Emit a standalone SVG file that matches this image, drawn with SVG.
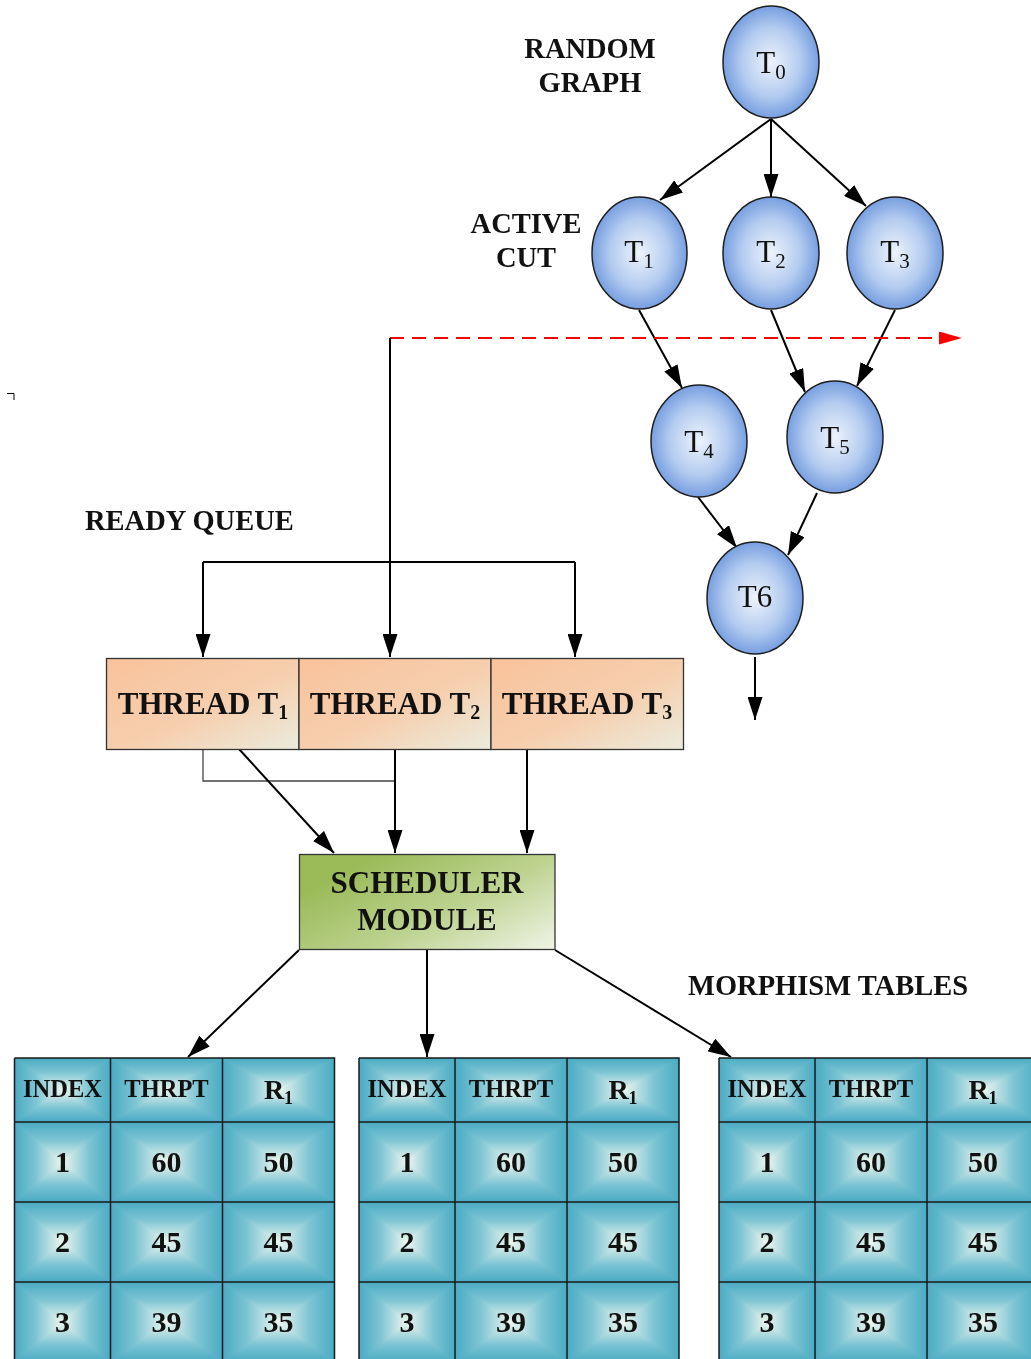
<svg xmlns="http://www.w3.org/2000/svg" width="1031" height="1359" viewBox="0 0 1031 1359">
  <defs>
    <radialGradient id="nodeFill" cx="50%" cy="50%" r="55%">
      <stop offset="0" stop-color="#edf3fb"/>
      <stop offset="0.55" stop-color="#b4ccf0"/>
      <stop offset="1" stop-color="#6893dc"/>
    </radialGradient>
    <linearGradient id="threadFill" x1="0" y1="0" x2="1" y2="1">
      <stop offset="0" stop-color="#f9c29b"/>
      <stop offset="0.55" stop-color="#f6cfae"/>
      <stop offset="1" stop-color="#ebebdd"/>
    </linearGradient>
    <linearGradient id="schedFill" x1="0.1" y1="0.3" x2="1" y2="0.95">
      <stop offset="0" stop-color="#9bbb59"/>
      <stop offset="0.5" stop-color="#bcd28f"/>
      <stop offset="1" stop-color="#eef2e2"/>
    </linearGradient>
    <!-- rectangular cell shading: darken of a horizontal and a vertical ramp -->
    <linearGradient id="cellH" x1="0" y1="0" x2="1" y2="0">
      <stop offset="0" stop-color="#49abc3"/>
      <stop offset="0.22" stop-color="#7cc4d4"/>
      <stop offset="0.5" stop-color="#eef6ee"/>
      <stop offset="0.78" stop-color="#7cc4d4"/>
      <stop offset="1" stop-color="#49abc3"/>
    </linearGradient>
    <linearGradient id="cellV" x1="0" y1="0" x2="0" y2="1">
      <stop offset="0" stop-color="#49abc3"/>
      <stop offset="0.22" stop-color="#7cc4d4"/>
      <stop offset="0.5" stop-color="#eef6ee"/>
      <stop offset="0.78" stop-color="#7cc4d4"/>
      <stop offset="1" stop-color="#49abc3"/>
    </linearGradient>
    <marker id="arrow" markerWidth="23" markerHeight="15" refX="23" refY="7.5" orient="auto" markerUnits="userSpaceOnUse">
      <path d="M0,0 L23,7.5 L0,15 z" fill="#000"/>
    </marker>
    <marker id="arrowRed" markerWidth="23" markerHeight="13" refX="23" refY="6.5" orient="auto" markerUnits="userSpaceOnUse">
      <path d="M0,0 L23,6.5 L0,13 z" fill="#ff0000"/>
    </marker>
  </defs>
  <style>
    .node ellipse { fill: url(#nodeFill); stroke: #1e1e1e; stroke-width: 1.5; }
    .nlabel { font-family: "Liberation Serif", "Times New Roman", serif; font-size: 31px; text-anchor: middle; fill: #111; }
    .label { font-family: "Liberation Serif", "Times New Roman", serif; font-weight: bold; font-size: 28.5px; fill: #111; }
    .mid { text-anchor: middle; }
    .edge { stroke: #000; stroke-width: 2; fill: none; marker-end: url(#arrow); }
    .line { stroke: #000; stroke-width: 2; fill: none; }
    .thin { stroke: #444; stroke-width: 1.3; fill: none; }
    .cut { stroke: #ff0000; stroke-width: 2; fill: none; stroke-dasharray: 14 8; marker-end: url(#arrowRed); }
    .box { stroke: #333; stroke-width: 1.3; }
    .btext { font-family: "Liberation Serif", "Times New Roman", serif; font-weight: bold; font-size: 31px; text-anchor: middle; fill: #111; }
    .ch { fill: url(#cellH); }
    .cv { fill: url(#cellV); mix-blend-mode: darken; }
    .grid { stroke: #1a1a1a; stroke-width: 1.5; fill: none; }
    .ttext { font-family: "Liberation Serif", "Times New Roman", serif; font-weight: bold; text-anchor: middle; fill: #111; }
    .th { font-size: 24.5px; }
    .tr { font-size: 28px; }
    .td { font-size: 30px; }
  </style>

  <rect x="0" y="0" width="1031" height="1359" fill="#ffffff"/>

  <!-- corner mark -->
  <path d="M7,393.5 H14 V400" stroke="#000" stroke-width="1" fill="none"/>

  <!-- captions -->
  <g id="captions">
    <text class="label mid" x="590" y="58">RANDOM</text>
    <text class="label mid" x="590" y="92">GRAPH</text>
    <text class="label mid" x="526" y="233">ACTIVE</text>
    <text class="label mid" x="526" y="267">CUT</text>
    <text class="label" x="85" y="530">READY QUEUE</text>
    <text class="label" x="688" y="995">MORPHISM TABLES</text>
  </g>

  <!-- connectors -->
  <g id="connectors">
    <path class="edge" d="M771,119 L660,200"/>
    <path class="edge" d="M771,119 L771,197"/>
    <path class="edge" d="M771,119 L866,206"/>
    <path class="edge" d="M639,310 L682,388"/>
    <path class="edge" d="M771,310 L805,392"/>
    <path class="edge" d="M895,310 L857,386"/>
    <path class="edge" d="M698,497 L737,548"/>
    <path class="edge" d="M817,493 L788,555"/>
    <path class="edge" d="M755,657 L755,720"/>
    <path class="cut" d="M390,338 L962,338"/>
    <path class="edge" d="M390,338 L390,657"/>
    <path class="line" d="M203,562 H575"/>
    <path class="edge" d="M203,562 V657"/>
    <path class="edge" d="M575,562 V657"/>
    <path class="thin" d="M203,749 V781 H395"/>
    <path class="edge" d="M239,749 L334,853"/>
    <path class="edge" d="M395,749 V853"/>
    <path class="edge" d="M527,749 V853"/>
    <path class="edge" d="M299,950 L188,1057"/>
    <path class="edge" d="M427,950 V1057"/>
    <path class="edge" d="M555,950 L731,1057"/>
  </g>

  <!-- task graph -->
  <g id="T0" class="node">
    <ellipse cx="771" cy="62" rx="48" ry="56"/>
    <text class="nlabel" x="771" y="73">T<tspan font-size="21" dy="6">0</tspan></text>
  </g>
  <g id="T1" class="node">
    <ellipse cx="639.5" cy="253" rx="47.5" ry="56"/>
    <text class="nlabel" x="639" y="262">T<tspan font-size="21" dy="6">1</tspan></text>
  </g>
  <g id="T2" class="node">
    <ellipse cx="771" cy="253" rx="48" ry="56"/>
    <text class="nlabel" x="771" y="262">T<tspan font-size="21" dy="6">2</tspan></text>
  </g>
  <g id="T3" class="node">
    <ellipse cx="895" cy="253" rx="48" ry="56"/>
    <text class="nlabel" x="895" y="262">T<tspan font-size="21" dy="6">3</tspan></text>
  </g>
  <g id="T4" class="node">
    <ellipse cx="699" cy="441" rx="48" ry="56"/>
    <text class="nlabel" x="699" y="452">T<tspan font-size="21" dy="6">4</tspan></text>
  </g>
  <g id="T5" class="node">
    <ellipse cx="835" cy="437" rx="48" ry="56"/>
    <text class="nlabel" x="835" y="448">T<tspan font-size="21" dy="6">5</tspan></text>
  </g>
  <g id="T6" class="node">
    <ellipse cx="755" cy="598" rx="48" ry="56"/>
    <text class="nlabel" x="755" y="607">T6</text>
  </g>

  <!-- ready queue threads -->
  <g id="thread1">
    <rect class="box" x="106.5" y="658.5" width="192.5" height="91" fill="url(#threadFill)"/>
    <text class="btext" x="203" y="714">THREAD T<tspan font-size="20" dy="5">1</tspan></text>
  </g>
  <g id="thread2">
    <rect class="box" x="299" y="658.5" width="192" height="91" fill="url(#threadFill)"/>
    <text class="btext" x="395" y="714">THREAD T<tspan font-size="20" dy="5">2</tspan></text>
  </g>
  <g id="thread3">
    <rect class="box" x="491" y="658.5" width="192.5" height="91" fill="url(#threadFill)"/>
    <text class="btext" x="587" y="714">THREAD T<tspan font-size="20" dy="5">3</tspan></text>
  </g>

  <!-- scheduler -->
  <g id="scheduler">
    <rect class="box" x="299.5" y="854.5" width="255.5" height="95" fill="url(#schedFill)"/>
    <text class="btext" x="427" y="893">SCHEDULER</text>
    <text class="btext" x="427" y="930">MODULE</text>
  </g>

  <!-- morphism tables -->
  <g id="table1" transform="translate(14.5,1058)">
    <rect class="ch" x="0" y="0" width="96" height="64"/><rect class="cv" x="0" y="0" width="96" height="64"/>
    <rect class="ch" x="96" y="0" width="112" height="64"/><rect class="cv" x="96" y="0" width="112" height="64"/>
    <rect class="ch" x="208" y="0" width="112" height="64"/><rect class="cv" x="208" y="0" width="112" height="64"/>
    <rect class="ch" x="0" y="64" width="96" height="80"/><rect class="cv" x="0" y="64" width="96" height="80"/>
    <rect class="ch" x="96" y="64" width="112" height="80"/><rect class="cv" x="96" y="64" width="112" height="80"/>
    <rect class="ch" x="208" y="64" width="112" height="80"/><rect class="cv" x="208" y="64" width="112" height="80"/>
    <rect class="ch" x="0" y="144" width="96" height="80"/><rect class="cv" x="0" y="144" width="96" height="80"/>
    <rect class="ch" x="96" y="144" width="112" height="80"/><rect class="cv" x="96" y="144" width="112" height="80"/>
    <rect class="ch" x="208" y="144" width="112" height="80"/><rect class="cv" x="208" y="144" width="112" height="80"/>
    <rect class="ch" x="0" y="224" width="96" height="80"/><rect class="cv" x="0" y="224" width="96" height="80"/>
    <rect class="ch" x="96" y="224" width="112" height="80"/><rect class="cv" x="96" y="224" width="112" height="80"/>
    <rect class="ch" x="208" y="224" width="112" height="80"/><rect class="cv" x="208" y="224" width="112" height="80"/>
    <path class="grid" d="M0,0 H320 V310 M0,0 V310 M96,0 V310 M208,0 V310 M0,64 H320 M0,144 H320 M0,224 H320"/>
    <text class="ttext th" x="48" y="39">INDEX</text>
    <text class="ttext th" x="152" y="39">THRPT</text>
    <text class="ttext tr" x="264" y="41">R<tspan font-size="18" dy="5">1</tspan></text>
    <text class="ttext td" x="48" y="114">1</text>
    <text class="ttext td" x="152" y="114">60</text>
    <text class="ttext td" x="264" y="114">50</text>
    <text class="ttext td" x="48" y="194">2</text>
    <text class="ttext td" x="152" y="194">45</text>
    <text class="ttext td" x="264" y="194">45</text>
    <text class="ttext td" x="48" y="274">3</text>
    <text class="ttext td" x="152" y="274">39</text>
    <text class="ttext td" x="264" y="274">35</text>
  </g>

  <g id="table2" transform="translate(359,1058)">
    <rect class="ch" x="0" y="0" width="96" height="64"/><rect class="cv" x="0" y="0" width="96" height="64"/>
    <rect class="ch" x="96" y="0" width="112" height="64"/><rect class="cv" x="96" y="0" width="112" height="64"/>
    <rect class="ch" x="208" y="0" width="112" height="64"/><rect class="cv" x="208" y="0" width="112" height="64"/>
    <rect class="ch" x="0" y="64" width="96" height="80"/><rect class="cv" x="0" y="64" width="96" height="80"/>
    <rect class="ch" x="96" y="64" width="112" height="80"/><rect class="cv" x="96" y="64" width="112" height="80"/>
    <rect class="ch" x="208" y="64" width="112" height="80"/><rect class="cv" x="208" y="64" width="112" height="80"/>
    <rect class="ch" x="0" y="144" width="96" height="80"/><rect class="cv" x="0" y="144" width="96" height="80"/>
    <rect class="ch" x="96" y="144" width="112" height="80"/><rect class="cv" x="96" y="144" width="112" height="80"/>
    <rect class="ch" x="208" y="144" width="112" height="80"/><rect class="cv" x="208" y="144" width="112" height="80"/>
    <rect class="ch" x="0" y="224" width="96" height="80"/><rect class="cv" x="0" y="224" width="96" height="80"/>
    <rect class="ch" x="96" y="224" width="112" height="80"/><rect class="cv" x="96" y="224" width="112" height="80"/>
    <rect class="ch" x="208" y="224" width="112" height="80"/><rect class="cv" x="208" y="224" width="112" height="80"/>
    <path class="grid" d="M0,0 H320 V310 M0,0 V310 M96,0 V310 M208,0 V310 M0,64 H320 M0,144 H320 M0,224 H320"/>
    <text class="ttext th" x="48" y="39">INDEX</text>
    <text class="ttext th" x="152" y="39">THRPT</text>
    <text class="ttext tr" x="264" y="41">R<tspan font-size="18" dy="5">1</tspan></text>
    <text class="ttext td" x="48" y="114">1</text>
    <text class="ttext td" x="152" y="114">60</text>
    <text class="ttext td" x="264" y="114">50</text>
    <text class="ttext td" x="48" y="194">2</text>
    <text class="ttext td" x="152" y="194">45</text>
    <text class="ttext td" x="264" y="194">45</text>
    <text class="ttext td" x="48" y="274">3</text>
    <text class="ttext td" x="152" y="274">39</text>
    <text class="ttext td" x="264" y="274">35</text>
  </g>

  <g id="table3" transform="translate(719,1058)">
    <rect class="ch" x="0" y="0" width="96" height="64"/><rect class="cv" x="0" y="0" width="96" height="64"/>
    <rect class="ch" x="96" y="0" width="112" height="64"/><rect class="cv" x="96" y="0" width="112" height="64"/>
    <rect class="ch" x="208" y="0" width="112" height="64"/><rect class="cv" x="208" y="0" width="112" height="64"/>
    <rect class="ch" x="0" y="64" width="96" height="80"/><rect class="cv" x="0" y="64" width="96" height="80"/>
    <rect class="ch" x="96" y="64" width="112" height="80"/><rect class="cv" x="96" y="64" width="112" height="80"/>
    <rect class="ch" x="208" y="64" width="112" height="80"/><rect class="cv" x="208" y="64" width="112" height="80"/>
    <rect class="ch" x="0" y="144" width="96" height="80"/><rect class="cv" x="0" y="144" width="96" height="80"/>
    <rect class="ch" x="96" y="144" width="112" height="80"/><rect class="cv" x="96" y="144" width="112" height="80"/>
    <rect class="ch" x="208" y="144" width="112" height="80"/><rect class="cv" x="208" y="144" width="112" height="80"/>
    <rect class="ch" x="0" y="224" width="96" height="80"/><rect class="cv" x="0" y="224" width="96" height="80"/>
    <rect class="ch" x="96" y="224" width="112" height="80"/><rect class="cv" x="96" y="224" width="112" height="80"/>
    <rect class="ch" x="208" y="224" width="112" height="80"/><rect class="cv" x="208" y="224" width="112" height="80"/>
    <path class="grid" d="M0,0 H320 V310 M0,0 V310 M96,0 V310 M208,0 V310 M0,64 H320 M0,144 H320 M0,224 H320"/>
    <text class="ttext th" x="48" y="39">INDEX</text>
    <text class="ttext th" x="152" y="39">THRPT</text>
    <text class="ttext tr" x="264" y="41">R<tspan font-size="18" dy="5">1</tspan></text>
    <text class="ttext td" x="48" y="114">1</text>
    <text class="ttext td" x="152" y="114">60</text>
    <text class="ttext td" x="264" y="114">50</text>
    <text class="ttext td" x="48" y="194">2</text>
    <text class="ttext td" x="152" y="194">45</text>
    <text class="ttext td" x="264" y="194">45</text>
    <text class="ttext td" x="48" y="274">3</text>
    <text class="ttext td" x="152" y="274">39</text>
    <text class="ttext td" x="264" y="274">35</text>
  </g>
</svg>
